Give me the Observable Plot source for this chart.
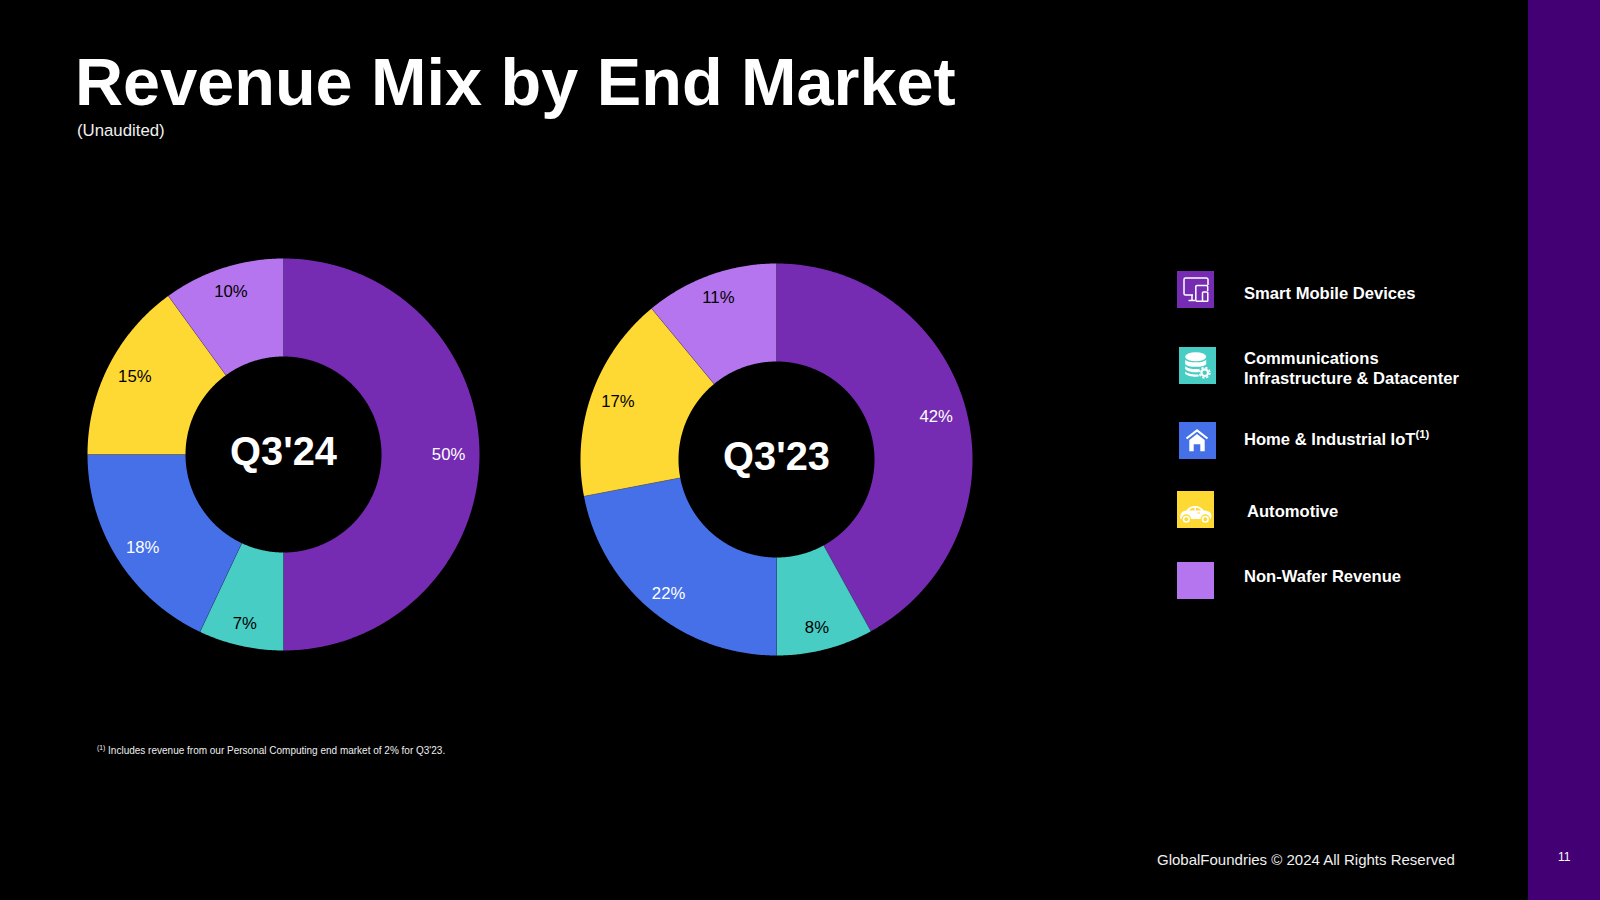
<!DOCTYPE html>
<html><head><meta charset="utf-8">
<script src="https://cdn.jsdelivr.net/npm/d3@7"></script>
<script src="https://cdn.jsdelivr.net/npm/@observablehq/plot@0.6"></script>
<style>
html,body{margin:0;padding:0;background:#000;}
#page{position:relative;width:1600px;height:900px;background:#000;overflow:hidden;font-family:"Liberation Sans",Arial,sans-serif;color:#fff;}
#page>*{position:absolute;}
.t{white-space:nowrap;}
.leg{font-weight:bold;font-size:16.6px;line-height:20px;white-space:nowrap;}
sup{font-size:0.68em;line-height:0;vertical-align:baseline;position:relative;top:-0.6em;}
svg{display:block;}
.icon{position:absolute;left:0;top:0;width:37px;height:37px;}
</style></head><body>
<div id="page">
  <div style="left:1528px;top:0;width:72px;height:900px;background:#430075"></div>
  <div class="t" style="left:75px;top:43px;font-size:66.6px;font-weight:bold;line-height:78px">Revenue Mix by End Market</div>
  <div class="t" style="left:77px;top:121px;font-size:16.8px;line-height:20px;color:#f0f0f0">(Unaudited)</div>
  <div id="d1" style="left:73px;top:244px"></div>
  <div id="d2" style="left:566px;top:249.3px"></div>
  <div id="legend" style="left:0;top:0"></div>
  <div class="t" style="left:97px;top:744px;font-size:10px;line-height:14px;color:#eee"><sup>(1)</sup> Includes revenue from our Personal Computing end market of 2% for Q3'23.</div>
  <div class="t" style="left:1157px;top:850px;font-size:15px;line-height:20px;color:#f0f0f0">GlobalFoundries © 2024 All Rights Reserved</div>
  <div class="t" style="left:1558px;top:849px;font-size:12px;line-height:16px">11</div>
</div>
<script>
const categories = ["Smart Mobile Devices","Communications Infrastructure & Datacenter","Home & Industrial IoT","Automotive","Non-Wafer Revenue"];
const colors = ["#762BB3","#47CDC4","#4570E8","#FFD933","#B575EE"];
const labelColors = ["#fff","#000","#fff","#000","#000"];
const q324 = [50,7,18,15,10];
const q323 = [42,8,22,17,11];

const INNER = 0.5, LABEL = 0.86;
const tau = Math.PI*2;
function donut(host, values, title, nudges){
  let cum = 0;
  const slices = values.map((v,i)=>{const a0=cum/100*tau; cum+=v; const a1=cum/100*tau; return {i,v,a0,a1,mid:(a0+a1)/2};});
  const poly = slices.flatMap(s=>{
    const n = Math.max(2,Math.ceil(s.v*8));
    const pts=[];
    for(let k=0;k<=n;k++){const a=s.a0+(s.a1-s.a0)*k/n; pts.push({c:categories[s.i],x:Math.sin(a),y:Math.cos(a)});}
    for(let k=n;k>=0;k--){const a=s.a0+(s.a1-s.a0)*k/n; pts.push({c:categories[s.i],x:INNER*Math.sin(a),y:INNER*Math.cos(a)});}
    return pts;
  });
  const seams = slices.flatMap(s=>[
    {c:s.i,x:INNER*Math.sin(s.a0),y:INNER*Math.cos(s.a0)},
    {c:s.i,x:Math.sin(s.a0),y:Math.cos(s.a0)}
  ]);
  const labels = slices.map(s=>({x:LABEL*Math.sin(s.mid),y:LABEL*Math.cos(s.mid),t:s.v+"%",col:labelColors[s.i],nudge:nudges[s.i]}));
  const size = 420, R = 196, half = size/2/R;
  const plot = Plot.plot({
    width:size,height:size,margin:0,
    style:{background:"transparent",fontFamily:'"Liberation Sans",Arial,sans-serif'},
    x:{domain:[-half,half],axis:null},
    y:{domain:[-half,half],axis:null},
    color:{domain:categories,range:colors},
    marks:[
      Plot.line(poly,{x:"x",y:"y",z:"c",fill:"c",stroke:"none",curve:"linear"}),
      Plot.line(seams,{x:"x",y:"y",z:"c",stroke:"#2a2560",strokeWidth:0.5,strokeOpacity:0.55}),
      ...labels.map(l=>Plot.text([l],{x:"x",y:"y",text:"t",fill:"col",fontSize:16.7,dx:l.nudge[0],dy:l.nudge[1]})),
      Plot.text([title],{x:()=>0,y:()=>0,text:d=>d,fill:"#fff",fontSize:39.8,fontWeight:"bold",dy:-2.5})
    ]
  });
  document.getElementById(host).appendChild(plot);
}
donut("d1",q324,"Q3'24",[[-3.5,0],[-2,4.5],[1.5,3],[1.5,-1.5],[-0.5,-3]]);
donut("d2",q323,"Q3'23",[[-3.5,-1],[-1.5,5],[-0.5,4],[0,-1],[-1,-3]]);

// legend
const legendRows = [
 {c:0,x:1177,y:271,tx:1244,ty:284,html:"Smart Mobile Devices",
  icon:'<g fill="none" stroke="#fff" stroke-width="1.5"><path d="M16 24H8.500a1.500 1.500 0 0 1-1.500-1.500V8.500A1.500 1.500 0 0 1 8.500 7h21A1.500 1.500 0 0 1 31 8.500V14"/><path d="M15 24v5.500"/><path d="M11.500 29.500h6.500"/><path d="M25 30.300H20a1.200 1.200 0 0 1-1.200-1.200V15.800a1.200 1.200 0 0 1 1.200-1.200h9.500a1.200 1.200 0 0 1 1.200 1.200V20"/><rect x="25.500" y="21" width="5.300" height="9.300" rx="0.800"/></g>'},
 {c:1,x:1179,y:347,tx:1244,ty:349,html:"Communications<br>Infrastructure &amp; Datacenter",
  icon:'<g fill="#fff"><ellipse cx="16.700" cy="9.800" rx="10.500" ry="4.500"/><path d="M6.200 12.500c2 3.800 19 3.800 21 0v4.500c-2 3.800-19 3.800-21 0z"/><path d="M6.200 19c2.500 3 11 3.600 14.500 2.800l-1.200 3.500c-5 .3-11.500-.8-13.300-3.300z"/><path d="M6.200 24.500c2 2.200 8 3.300 13 3l1 2c-5.500.5-12-.3-14-2.800z"/></g><circle cx="25.700" cy="25.700" r="3.300" fill="none" stroke="#fff" stroke-width="2.200"/><circle cx="25.700" cy="25.700" r="5.200" fill="none" stroke="#fff" stroke-width="1.600" stroke-dasharray="2.300 1.783"/>'},
 {c:2,x:1179,y:422,tx:1244,ty:430,html:"Home &amp; Industrial IoT<sup>(1)</sup>",
  icon:'<path d="M7.500 16.500L18 8.500 28.500 16.500" fill="none" stroke="#fff" stroke-width="2.200"/><path d="M10.300 18L18 12 25.700 18V29.300H21.300V22.300H14.700V29.300H10.300z" fill="#fff"/>'},
 {c:3,x:1177,y:491,tx:1247,ty:502,html:"Automotive",
  icon:'<path d="M3.300 28c-.5-3.500.5-6.800 3.200-7.800l3-.9c2-2.600 4.500-4.300 9-4.300 3.500 0 5.700 1.500 8 4.300 3 .4 6 1.300 7.300 3 .8 1.300.7 4-.3 5.700H33a4.700 4.700 0 0 0-9.400 0H14a4.700 4.700 0 0 0-9.400 0z" fill="#fff"/><circle cx="9.300" cy="28.300" r="2.800" fill="none" stroke="#fff" stroke-width="1.500"/><circle cx="28.300" cy="28.300" r="2.800" fill="none" stroke="#fff" stroke-width="1.500"/><path d="M12 19.500c1.200-1.500 2.800-2.500 5.500-2.700v2.700zM19 16.800c2 0 3.700.9 5 2.700h-5z" fill="#FFD933"/><rect x="20.500" y="21.500" width="2.500" height="1" fill="#FFD933"/>'},
 {c:4,x:1177,y:562,tx:1244,ty:567,html:"Non-Wafer Revenue",icon:''}
];
const lg=document.getElementById("legend");
legendRows.forEach(r=>{
  const s=document.createElement("div");
  s.style.cssText=`position:absolute;left:${r.x}px;top:${r.y}px;width:37px;height:37px;background:${colors[r.c]}`;
  s.innerHTML=`<svg class="icon" viewBox="0 0 37 37">${r.icon}</svg>`;
  lg.appendChild(s);
  const t=document.createElement("div");
  t.className="leg";
  t.style.cssText=`position:absolute;left:${r.tx}px;top:${r.ty}px`;
  t.innerHTML=r.html;
  lg.appendChild(t);
});
</script>
</body></html>
